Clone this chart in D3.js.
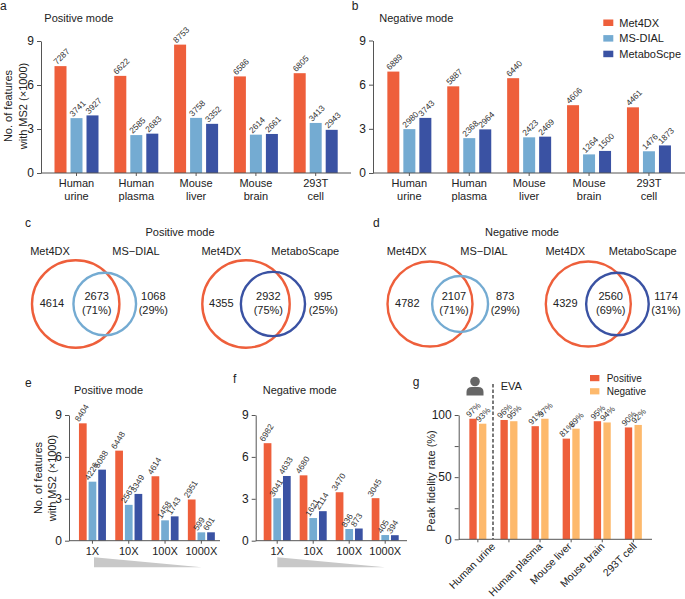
<!DOCTYPE html>
<html lang="en">
<head>
	<meta charset="UTF-8">
	<title>Met4DX comparison</title>
	<script type="text/javascript" src="https://d3js.org/d3.v7.min.js"></script>
	<style>
		body { margin: 0; background: #fff; }
		svg { display: block; font-family: "Liberation Sans", Arial, sans-serif; fill: #222; }
		.axis line, .axis path { stroke: #555; stroke-width: 1; }
		.axis text { fill: #222; font-family: "Liberation Sans", Arial, sans-serif; }
	</style>
</head>
<body>
	<svg id="chart" width="685" height="599"></svg>

	<script>
		var tools = ["Met4DX", "MS-DIAL", "MetaboScpe"];
		var samples = ["Human\nurine", "Human\nplasma", "Mouse\nliver", "Mouse\nbrain", "293T\ncell"];
		var dilutions = ["1X", "10X", "100X", "1000X"];
		var fidelitySamples = ["", "Human urine", "Human plasma", "Mouse liver", "Mouse brain", "293T cell"];
		var modes = ["Positive", "Negative"];

		var posMet4dx = [7287, 6622, 8753, 6586, 6805];
		var posMsdial = [3741, 2585, 3758, 2614, 3413];
		var posMetabo = [3927, 2683, 3352, 2661, 2943];
		var negMet4dx = [6889, 5887, 6440, 4606, 4461];
		var negMsdial = [2980, 2368, 2423, 1264, 1476];
		var negMetabo = [3743, 2964, 2469, 1500, 1873];

		var dilPosMet4dx = [8404, 6448, 4614, 2951];
		var dilPosMsdial = [4226, 2567, 1458, 599];
		var dilPosMetabo = [5088, 3349, 1743, 601];
		var dilNegMet4dx = [6982, 4680, 3470, 3045];
		var dilNegMsdial = [3041, 1621, 836, 405];
		var dilNegMetabo = [4633, 2114, 873, 394];

		var fidelityPositive = [97, 96, 91, 81, 95, 90];
		var fidelityNegative = [93, 95, 97, 89, 94, 92];

		// only, shared, other, share of shared, share of other
		var vennPosMsdial = ["Met4DX", "MS\u2212DIAL", 4614, 2673, 1068, "71%", "29%"];
		var vennPosMetabo = ["Met4DX", "MetaboScape", 4355, 2932, 995, "75%", "25%"];
		var vennNegMsdial = ["Met4DX", "MS\u2212DIAL", 4782, 2107, 873, "71%", "29%"];
		var vennNegMetabo = ["Met4DX", "MetaboScape", 4329, 2560, 1174, "69%", "31%"];

		var red = "#ee5f3b", blue = "#74abd2", navy = "#3a52a3", orange = "#fdb96c";
		var svg = d3.select("#chart");

		function label(x, y, str, size, anchor) {
			return svg.append("text").attr("x", x).attr("y", y).attr("font-size", size)
				.attr("text-anchor", anchor || "start").text(str);
		}

		// grouped bars with rotated value labels, o holds the panel geometry
		function barPanel(o) {
			var y = d3.scaleLinear().domain(o.domain).range([o.y0, o.y1]);
			var x = d3.scaleBand().domain(d3.range(o.categories.length))
				.range([o.first, o.first + o.step * o.categories.length]);
			var inner = d3.scaleBand().domain(d3.range(o.series.length))
				.range([(o.step - o.groupW) / 2, (o.step + o.groupW) / 2]).paddingInner(o.pad);

			o.series.forEach(function(values, s) {
				var g = svg.append("g");
				g.selectAll("rect").data(values).enter().append("rect")
					.attr("x", function(d, i) { return x(i) + inner(s); })
					.attr("width", inner.bandwidth())
					.attr("y", function(d) { return y(d); })
					.attr("height", function(d) { return o.y0 - y(d); })
					.attr("fill", o.colors[s]);
				g.selectAll("text").data(values).enter().append("text")
					.attr("font-size", 8.4)
					.attr("fill", "#333")
					.attr("transform", function(d, i) {
						var px = x(i) + inner(s) + inner.bandwidth() / 2 - 3.5;
						return "translate(" + px + "," + (y(d) - 1) + ") rotate(" + o.angle + ")";
					})
					.text(function(d) { return d + (o.suffix || ""); });
			});

			svg.append("g").attr("class", "axis").attr("transform", "translate(" + o.axisX + ",0)")
				.call(d3.axisLeft(y).tickValues(o.ticks).tickFormat(o.tickFormat).tickSize(4).tickSizeOuter(0).tickPadding(3))
				.selectAll("text").style("font-size", "12px");

			var xAxis = svg.append("g").attr("class", "axis").attr("transform", "translate(0," + o.y0 + ")")
				.call(d3.axisBottom(x).tickSize(3).tickFormat(""));
			xAxis.select(".domain").remove();
			svg.append("line").attr("x1", o.axisX).attr("x2", o.axisEnd)
				.attr("y1", o.y0).attr("y2", o.y0).attr("stroke", "#555");

			return x;
		}

		function sampleLabels(x, categories, y0) {
			categories.forEach(function(c, i) {
				c.split("\n").forEach(function(line, k) {
					label(x(i) + x.bandwidth() / 2, y0 + 14 + k * 13.2, line, 11, "middle");
				});
			});
		}

		function yTitle(x, y, lines) {
			lines.forEach(function(line, k) {
				svg.append("text").attr("font-size", 11).attr("text-anchor", "middle")
					.attr("transform", "translate(" + (x + k * 14.5) + "," + y + ") rotate(-90)").text(line);
			});
		}

		function lensArea(r1, r2, d) {
			if (d >= r1 + r2) return 0;
			if (d <= Math.abs(r1 - r2)) return Math.PI * Math.min(r1, r2) * Math.min(r1, r2);
			var a = r1 * r1 * Math.acos((d * d + r1 * r1 - r2 * r2) / (2 * d * r1));
			var b = r2 * r2 * Math.acos((d * d + r2 * r2 - r1 * r1) / (2 * d * r2));
			var c = 0.5 * Math.sqrt((-d + r1 + r2) * (d + r1 - r2) * (d - r1 + r2) * (d + r1 + r2));
			return a + b - c;
		}

		var vennRadius = d3.scaleSqrt().domain([0, 7287]).range([0, 43.7]);

		// circle sizes and their offset both come from the counts
		function venn(v, cx, cy, color, pos) {
			var r1 = vennRadius(v[2] + v[3]);
			var r2 = vennRadius(v[3] + v[4]);
			var target = Math.PI * vennRadius(v[3]) * vennRadius(v[3]);
			var lo = Math.abs(r1 - r2), hi = r1 + r2;
			for (var i = 0; i < 40; i++) {
				var mid = (lo + hi) / 2;
				if (lensArea(r1, r2, mid) > target) lo = mid; else hi = mid;
			}
			var d = (lo + hi) / 2;
			svg.append("circle").attr("cx", cx).attr("cy", cy).attr("r", r1)
				.attr("fill", "none").attr("stroke", red).attr("stroke-width", 2.4);
			svg.append("circle").attr("cx", cx + d).attr("cy", cy).attr("r", r2)
				.attr("fill", "none").attr("stroke", color).attr("stroke-width", 2.4);

			label(pos[0], 255, v[0], 11, "middle");
			label(pos[1], 255, v[1], 11, "middle");
			label(pos[2], 306.5, v[2], 11, "middle");
			label(pos[3], 300, v[3], 11, "middle");
			label(pos[3], 313.5, "(" + v[5] + ")", 11, "middle");
			label(pos[4], 300, v[4], 11, "middle");
			label(pos[4], 313.5, "(" + v[6] + ")", 11, "middle");
		}

		var thousands = function(d) { return d / 1000; };
		var fidelityTick = function(d) { return d % 50 == 0 ? d : ""; };

		// a
		var xa = barPanel({
			categories: samples, series: [posMet4dx, posMsdial, posMetabo], colors: [red, blue, navy],
			domain: [0, 9000], ticks: [0, 3000, 6000, 9000], tickFormat: thousands, y0: 173, y1: 41, axisX: 41, axisEnd: 351,
			first: 46.6, step: 59.8, groupW: 44, pad: 0.25, angle: -45
		});
		// b
		var xb = barPanel({
			categories: samples, series: [negMet4dx, negMsdial, negMetabo], colors: [red, blue, navy],
			domain: [0, 9000], ticks: [0, 3000, 6000, 9000], tickFormat: thousands, y0: 173, y1: 40.5, axisX: 373, axisEnd: 685,
			first: 379.4, step: 59.9, groupW: 44, pad: 0.25, angle: -45
		});
		sampleLabels(xa, samples, 173);
		sampleLabels(xb, samples, 173);
		yTitle(12, 106, ["No. of features", "with MS2 (\u00d71000)"]);
		label(44.3, 21.7, "Positive mode", 11);
		label(379.3, 21.7, "Negative mode", 11);

		tools.forEach(function(t, i) {
			svg.append("rect").attr("x", 603.3).attr("y", 19.5 + i * 15.6).attr("width", 10).attr("height", 6.5)
				.attr("fill", [red, blue, navy][i]);
			label(619.3, 26.5 + i * 15.6, t, 11);
		});

		// c, d
		label(180, 236, "Positive mode", 11, "middle");
		label(522, 236, "Negative mode", 11, "middle");
		venn(vennPosMsdial, 75.7, 304, blue, [50, 136, 52, 96.7, 153.3]);
		venn(vennPosMetabo, 246, 304, navy, [221.3, 305.3, 221.3, 268.3, 323.3]);
		venn(vennNegMsdial, 430, 304, blue, [406.7, 484, 407.3, 454, 505.3]);
		venn(vennNegMetabo, 588.3, 304, navy, [565.3, 642.7, 565.3, 610.7, 666]);

		// e
		var xe = barPanel({
			categories: dilutions, series: [dilPosMet4dx, dilPosMsdial, dilPosMetabo], colors: [red, blue, navy],
			domain: [0, 9000], ticks: [0, 3000, 6000, 9000], tickFormat: thousands, y0: 540.7, y1: 415, axisX: 69, axisEnd: 220,
			first: 74.3, step: 36.3, groupW: 27, pad: 0.2, angle: -58
		});
		// f
		var xf = barPanel({
			categories: dilutions, series: [dilNegMet4dx, dilNegMsdial, dilNegMetabo], colors: [red, blue, navy],
			domain: [0, 9000], ticks: [0, 3000, 6000, 9000], tickFormat: thousands, y0: 540.7, y1: 415, axisX: 255.7, axisEnd: 407,
			first: 259.2, step: 36, groupW: 27, pad: 0.2, angle: -58
		});
		[xe, xf].forEach(function(x) {
			dilutions.forEach(function(c, i) {
				label(x(i) + x.bandwidth() / 2, 554.5, c, 11, "middle");
			});
		});
		yTitle(41.5, 478, ["No. of features", "with MS2 (\u00d71000)"]);
		label(74, 394.3, "Positive mode", 11);
		label(262.7, 394.3, "Negative mode", 11);

		[[94, 201.7], [277.3, 385]].forEach(function(t) {
			svg.append("polygon").attr("fill", "#c8c8c8")
				.attr("points", [[t[0], 557.3], [t[0], 567.3], [t[1], 567.3]].join(" "));
		});

		// g
		var xg = barPanel({
			categories: fidelitySamples, series: [fidelityPositive, fidelityNegative], colors: [red, orange],
			domain: [0, 100], ticks: [0, 25, 50, 75, 100], tickFormat: fidelityTick, y0: 539.3, y1: 415, axisX: 458.7, axisEnd: 652,
			first: 462.3, step: 31.1, groupW: 17, pad: 0.24, angle: -45, suffix: "%"
		});

		var labelNudge = [0, -13, 3, 1, 3, 4];
		fidelitySamples.forEach(function(c, i) {
			svg.append("text").attr("font-size", 10.5).attr("text-anchor", "end")
				.attr("transform", "translate(" + (xg(i) + xg.bandwidth() / 2 + labelNudge[i]) + ",547) rotate(-45)")
				.text(c);
		});
		yTitle(435, 481, ["Peak fidelity rate (%)"]);

		svg.append("line").attr("x1", 493).attr("x2", 493).attr("y1", 384).attr("y2", 539)
			.attr("stroke", "#222").attr("stroke-width", 1.2).attr("stroke-dasharray", "3.5 2");
		label(500.7, 390, "EVA", 11);
		svg.append("circle").attr("cx", 475).attr("cy", 381.5).attr("r", 4.8).attr("fill", "#666");
		svg.append("path").attr("fill", "#666")
			.attr("d", "M466.5,395.5 L466.5,392 Q466.5,387 472,387 L478,387 Q483.5,387 483.5,392 L483.5,395.5 Z");

		modes.forEach(function(m, i) {
			svg.append("rect").attr("x", 590).attr("y", 375 + i * 13.2).attr("width", 9.4).attr("height", 6.2)
				.attr("fill", [red, orange][i]);
			label(606.7, 382 + i * 13.2, m, 10);
		});

		// panel letters
		[["a", 0, 10], ["b", 351.7, 10], ["c", 25, 227], ["d", 373, 227], ["e", 25, 386.5], ["f", 233, 383], ["g", 412.7, 385.5]]
			.forEach(function(p) { label(p[1], p[2], p[0], 12); });
	</script>
</body>
</html>
